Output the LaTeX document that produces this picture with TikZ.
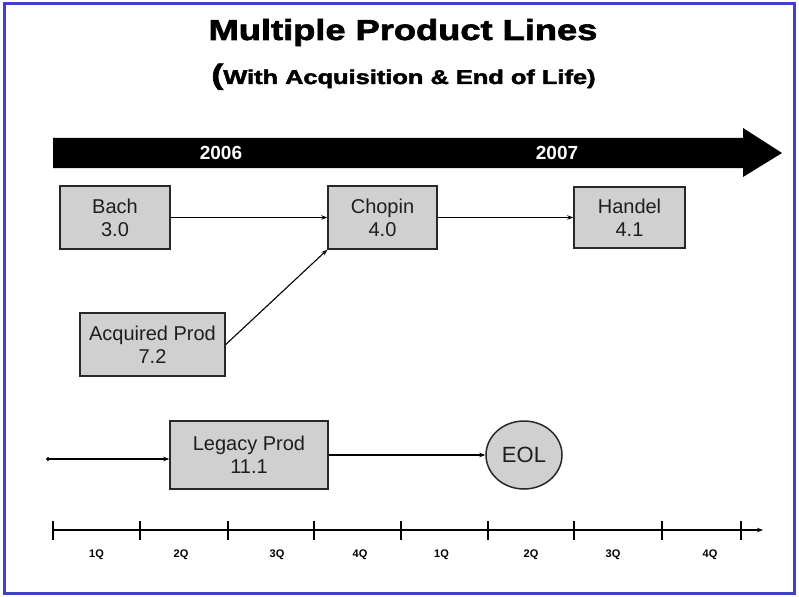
\documentclass[tikz,border=0pt]{standalone}
\usepackage{fontspec}
\usepackage{graphicx}
\setmainfont{Liberation Sans}
\newfontfamily\heavyfont[FakeBold=2]{Liberation Sans Bold}
\usetikzlibrary{arrows.meta,shapes.geometric}
\definecolor{frameblue}{RGB}{64,64,200}
\definecolor{boxgray}{RGB}{208,208,208}
\definecolor{edgegray}{RGB}{40,40,40}
\definecolor{textgray}{RGB}{30,30,30}
\begin{document}
\begin{tikzpicture}[x=1pt,y=-1pt,
  prodbox/.style={draw=edgegray, line width=1.5pt, fill=boxgray, inner sep=0pt,
    align=center, text=textgray, font=\fontsize{20}{23}\selectfont},
  conn/.style={draw=black, line width=1.1pt, -{Stealth[length=6pt,width=4.5pt]}},
  axisline/.style={draw=black, line width=1.5pt},
  yearlabel/.style={text=white, font=\fontsize{19}{19}\selectfont\bfseries},
  qlabel/.style={text=black, font=\fontsize{11}{11}\selectfont\bfseries}]
\useasboundingbox (0,0) rectangle (799,596);
\fill[white] (0,0) rectangle (799,596);
\draw[frameblue, line width=3pt] (4,4) rectangle (794,593);

% titles
\node[anchor=base, inner sep=0pt] (title) at (403,40)
  {\fontsize{29}{29}\heavyfont\scalebox{1.25}[1]{Multiple Product Lines}};
\node[anchor=base, inner sep=0pt] (subtitle) at (403.5,84)
  {\heavyfont\scalebox{1.27}[1]{{\fontsize{28}{28}\selectfont(}\fontsize{20}{20}\selectfont With Acquisition \& End of Life)}};

% big black timeline arrow
\fill[black] (53,138) -- (743,138) -- (743,128) -- (782,153) -- (743,177) -- (743,168) -- (53,168) -- cycle;
\node[yearlabel] (y2006) at (221,153) {2006};
\node[yearlabel] (y2007) at (557,153) {2007};

% product boxes
\node[prodbox, minimum width=110pt, minimum height=63pt] (bach) at (115,217.5) {Bach\\3.0};
\node[prodbox, minimum width=109pt, minimum height=63pt] (chopin) at (382.5,217.5) {Chopin\\4.0};
\node[prodbox, minimum width=111pt, minimum height=61pt] (handel) at (629.5,217.5) {Handel\\4.1};
\node[prodbox, minimum width=145pt, minimum height=63pt] (acq) at (152.5,344.5) {Acquired Prod\\7.2};
\node[prodbox, minimum width=158pt, minimum height=68pt] (legacy) at (249,455) {Legacy Prod\\11.1};
\node[ellipse, draw=edgegray, line width=1.5pt, fill=boxgray, inner sep=0pt,
  minimum width=76pt, minimum height=68pt, text=textgray,
  font=\fontsize{22}{22}\selectfont] (eol) at (524,455) {EOL};

% connectors
\draw[conn] (bach) -- (chopin);
\draw[conn] (chopin) -- (handel);
\draw[conn] (acq.east) -- (chopin.south west);
\coordinate (lstart) at (46,459);
\draw[conn, {Circle[length=4pt]}-{Stealth[length=6pt,width=4.5pt]}] (lstart) -- (lstart -| legacy.west);
\draw[conn] (legacy) -- (eol);

% quarter axis
\coordinate (ax0) at (53,530);
\coordinate (ax1) at (763,530);
\draw[axisline, -{Stealth[length=6pt,width=4.5pt]}] (ax0) -- (ax1);
\foreach \x in {53,140,228,314,401,488,574,662,741}
  \draw[axisline] (\x,521) -- (\x,540);
\foreach \x/\l [count=\i] in {96.5/1Q,181/2Q,277/3Q,360/4Q,441.5/1Q,531/2Q,613/3Q,710/4Q}
  \node[qlabel] (q\i) at (\x,554.5) {\l};
\end{tikzpicture}
\end{document}
